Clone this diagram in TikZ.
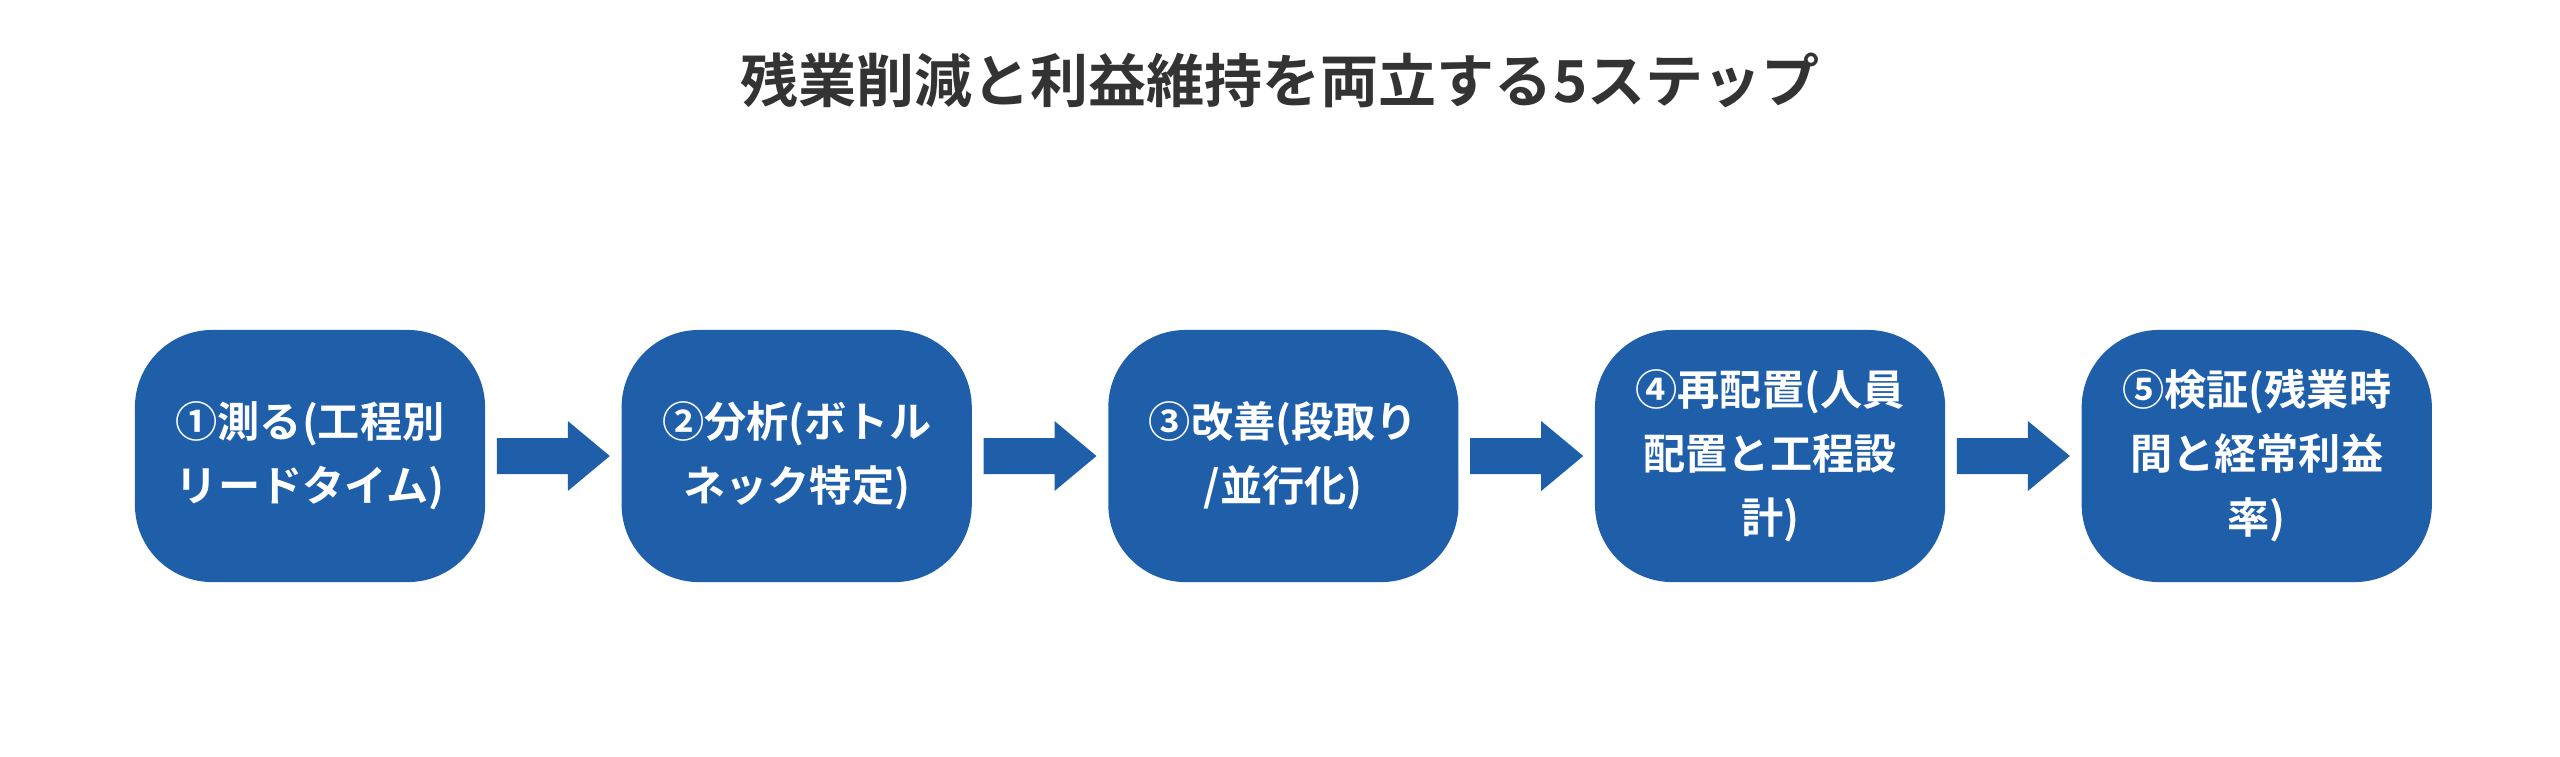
\documentclass[tikz,border=0pt]{standalone}
\usepackage{fontspec}
\setmainfont{Noto Sans CJK JP}[BoldFont={* Bold}]
\usetikzlibrary{positioning}
\definecolor{stepblue}{HTML}{1F5FA9}
\definecolor{titlegray}{HTML}{333333}
\tikzset{
  stepbox/.style={
    rounded corners=22pt, fill=stepblue, text=white,
    minimum width=3.5cm, minimum height=2.52cm,
    align=center, text width=3.0cm,
    font=\bfseries\fontsize{12}{18.2}\selectfont
  },
  flow/.style={fill=stepblue}
}
\begin{document}
\begin{tikzpicture}[x=0.01cm,y=-0.01cm]
      \useasboundingbox (0,0) rectangle (2560,756);
      \node [font=\bfseries\fontsize{16.5}{20}\selectfont, text=titlegray] (Title) at (1280,80)
      {残業削減と利益維持を両立する5ステップ};

      \node [stepbox] (S1) at (310,456) {①測る(工程別\\リードタイム)};
      \node [stepbox,right=1.35cm of S1] (S2) {②分析(ボトル\\ネック特定)};
      \node [stepbox,right=1.35cm of S2] (S3) {③改善(段取り\\/並行化)};
      \node [stepbox,right=1.35cm of S3] (S4) {④再配置(人員\\配置と工程設\\計)};
      \node [stepbox,right=1.35cm of S4] (S5) {⑤検証(残業時\\間と経常利益\\率)};

      % block arrows between the steps
      \foreach \a/\b in {S1/S2,S2/S3,S3/S4,S4/S5}{
        \path (\a.east) ++(11,0) coordinate (\a-s);
        \fill [flow] (\a-s) ++(0,-18) -- ++(71,0) -- ++(0,-17) -- ++(42,35)
          -- ++(-42,35) -- ++(0,-17) -- ++(-71,0) -- cycle;
      }
\end{tikzpicture}
\end{document}
